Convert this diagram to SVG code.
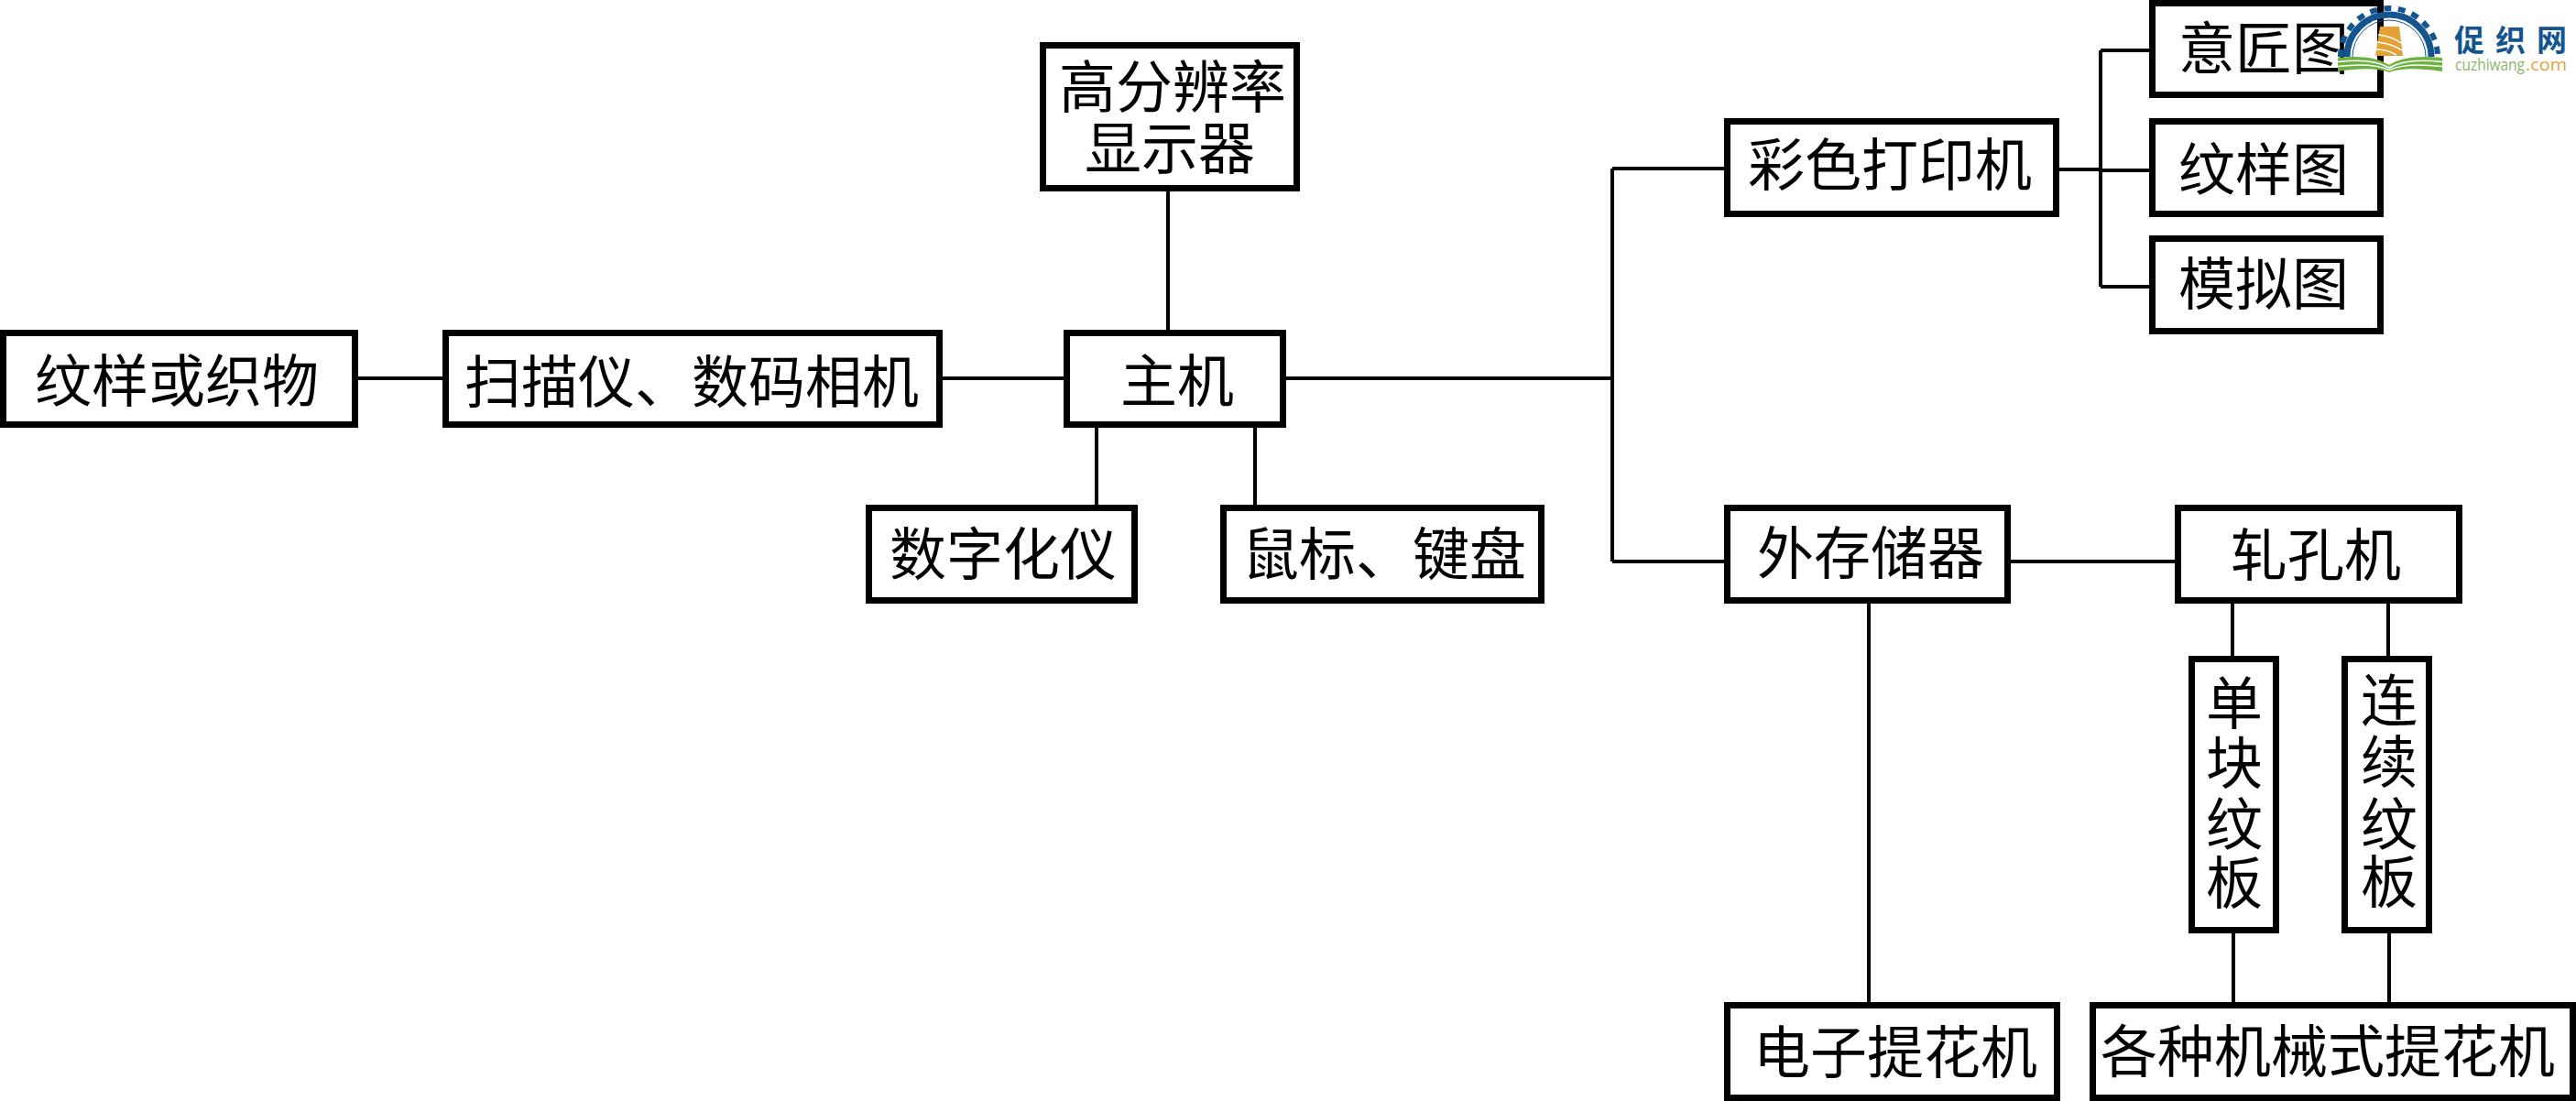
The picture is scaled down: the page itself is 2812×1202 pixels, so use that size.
<svg xmlns="http://www.w3.org/2000/svg" width="2812" height="1202" viewBox="0 0 2812 1202">
<style>
.b{fill:#fff;stroke:#000;stroke-width:7;stroke-linejoin:miter}
.c{fill:none;stroke:#000;stroke-width:4}
.t{font-family:"Noto Sans CJK SC","Liberation Serif",serif;font-size:62px;fill:#000;text-anchor:middle}
</style>
<rect width="2812" height="1202" fill="#fff"/>
<g id="connectors">
<path class="c" d="M391 413H483M1029 413H1161M1275 209V360M1197 467V552M1370 467V552M1404 413H1760M1760 184V613M1760 184H1883M1760 613H1882M2195 613H2374M2040 659V1094M2437 659V716M2607 659V716M2438 1019V1094M2608 1019V1094M2247 185H2293M2293 55V313M2293 55H2346M2293 186H2346M2293 313H2346"/>
</g>
<g id="n1"><rect class="b" x="3.500" y="363.500" width="384" height="100"/><text class="t" x="193" y="439">纹样或织物</text></g>
<g id="n2"><rect class="b" x="486.500" y="363.500" width="539" height="100"/><text class="t" x="755" y="440">扫描仪、数码相机</text></g>
<g id="n3"><rect class="b" x="1164.500" y="363.500" width="236" height="100"/><text class="t" x="1285" y="439">主机</text></g>
<g id="n4"><rect class="b" x="1138.500" y="49.500" width="277" height="156"/><text class="t"><tspan x="1280" y="118">高分辨率</tspan><tspan x="1277" y="185">显示器</tspan></text></g>
<g id="n5"><rect class="b" x="948.500" y="554.500" width="290" height="101"/><text class="t" x="1095" y="628">数字化仪</text></g>
<g id="n6"><rect class="b" x="1335.500" y="554.500" width="347" height="101"/><text class="t" x="1511" y="628">鼠标、键盘</text></g>
<g id="n7"><rect class="b" x="1885.500" y="132.500" width="359" height="101"/><text class="t" x="2063" y="203">彩色打印机</text></g>
<g id="n8"><rect class="b" x="2349.500" y="3.500" width="249" height="100"/><text class="t" x="2471" y="76">意匠图</text></g>
<g id="n9"><rect class="b" x="2349.500" y="132.500" width="249" height="101"/><text class="t" x="2471" y="208">纹样图</text></g>
<g id="n10"><rect class="b" x="2349.500" y="260.500" width="249" height="101"/><text class="t" x="2471" y="333">模拟图</text></g>
<g id="n11"><rect class="b" x="1885.500" y="554.500" width="306" height="101"/><text class="t" x="2042" y="627">外存储器</text></g>
<g id="n12"><rect class="b" x="2377.500" y="554.500" width="307" height="101"/><text class="t" x="2528" y="629">轧孔机</text></g>
<g id="n13"><rect class="b" x="2392.500" y="719.500" width="92" height="296"/><text class="t"><tspan x="2439" y="791">单</tspan><tspan x="2439" y="856">块</tspan><tspan x="2439" y="923">纹</tspan><tspan x="2439" y="987">板</tspan></text></g>
<g id="n14"><rect class="b" x="2559.500" y="719.500" width="92" height="296"/><text class="t"><tspan x="2608" y="788">连</tspan><tspan x="2608" y="855">续</tspan><tspan x="2608" y="923">纹</tspan><tspan x="2608" y="986">板</tspan></text></g>
<g id="n15"><rect class="b" x="1885.500" y="1097.500" width="360" height="101"/><text class="t" x="2069" y="1172">电子提花机</text></g>
<g id="n16"><rect class="b" x="2284.500" y="1097.500" width="524" height="101"/><text class="t" x="2541" y="1171">各种机械式提花机</text></g>
<g id="logo">
<path d="M2562 62A46 46 0 0 1 2654 62" fill="none" stroke="#14558f" stroke-width="7"/>
<path d="M2555 62A53 53 0 0 1 2661 62" fill="none" stroke="#14558f" stroke-width="6" stroke-dasharray="8 7.500"/>
<path d="M2568 62A40 40 0 0 1 2648 62" fill="none" stroke="#14558f" stroke-width="1"/>
<path d="M2598 29H2619L2623 61H2593Z" fill="#e3a233"/>
<path d="M2596 38Q2612 40 2621 47M2595 46Q2612 48 2622 55M2594 54Q2606 54 2616 60" fill="none" stroke="#fff" stroke-width="1.500"/>
<path d="M2552 63Q2590 59 2608 71Q2626 59 2666 63V78Q2626 72 2608 79Q2590 72 2552 78Z" fill="#6fb043"/>
<path d="M2552 67.500Q2590 63 2608 74Q2626 63 2666 67.500M2552 72.500Q2590 68 2608 76.500Q2626 68 2666 72.500" fill="none" stroke="#fff" stroke-width="1.500"/>
<text font-family="Noto Sans CJK SC,sans-serif" font-weight="700" font-size="33" fill="#14558f" x="2679 2724 2769" y="56">促织网</text>
<text x="2680" y="77" font-family="Open Sans,sans-serif" font-size="18" fill="#8fb56a" textLength="76" lengthAdjust="spacingAndGlyphs">cuzhiwang</text>
<text x="2757" y="77" font-family="Open Sans,sans-serif" font-size="18" fill="#e0a63a" textLength="45" lengthAdjust="spacingAndGlyphs">.com</text>
</g>
</svg>
